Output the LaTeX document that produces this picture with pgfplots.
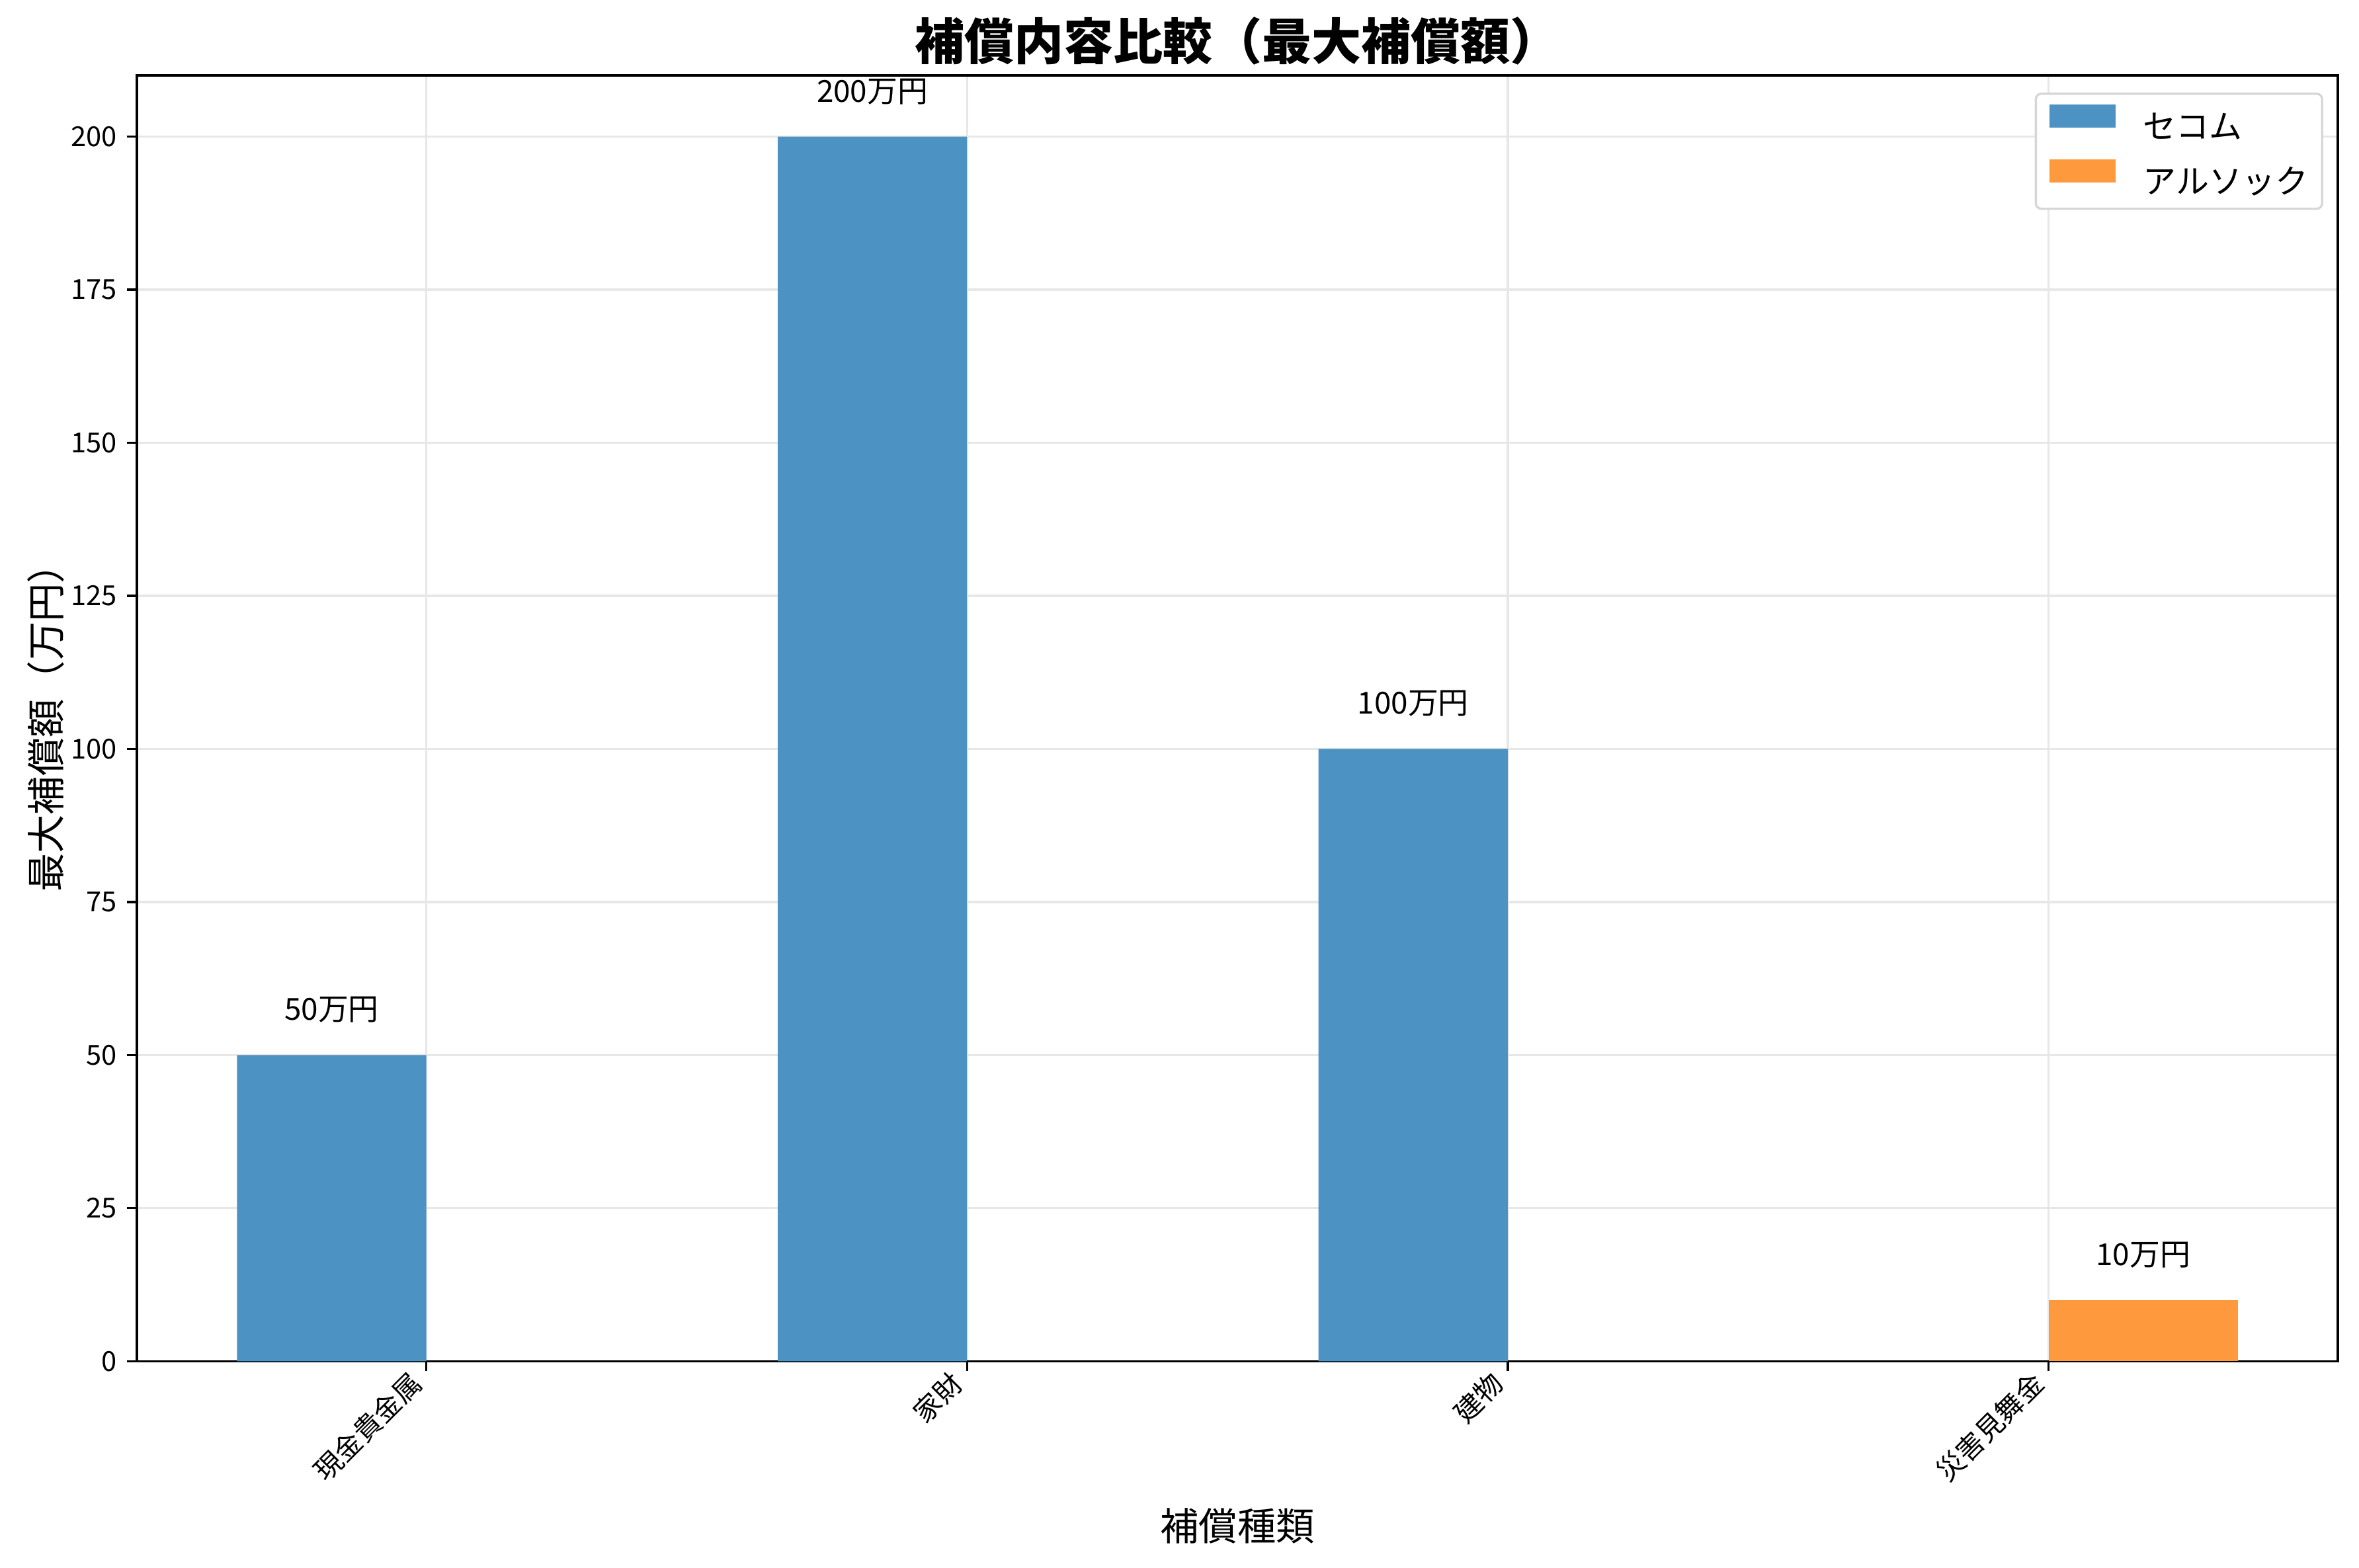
\documentclass[border=0pt]{standalone}
\usepackage{fontspec}
\setmainfont{Noto Sans CJK JP}
\usepackage{pgfplots}
\pgfplotsset{compat=1.18}
\definecolor{secom}{RGB}{76,146,195}
\definecolor{alsok}{RGB}{255,153,62}
\definecolor{gridgray}{RGB}{231,231,231}
\begin{document}
\begin{tikzpicture}
\begin{axis}[
    scale only axis,
    width=798.7pt, height=466.6pt,
    xmin=-0.535, xmax=3.535,
    ymin=0, ymax=210,
    xtick={0,1,2,3},
    xticklabels={現金貴金属, 家財, 建物, 災害見舞金},
    ytick={0,25,...,200},
    tick pos=left,
    tick align=outside,
    major tick length=3.5pt,
    axis line style={line width=0.8pt},
    every tick/.style={black, line width=0.8pt},
    xmajorgrids=true, ymajorgrids=true,
    grid style={gridgray, line width=0.8pt},
    /pgf/number format/assume math mode=true,
    tick label style={font=\fontsize{10}{12}\selectfont},
    yticklabel style={inner sep=0pt, xshift=-3.5pt},
    xticklabel style={yshift=-6pt, rotate=45, anchor=south east, inner sep=0pt},
    title={補償内容比較（最大補償額）},
    title style={font=\fontsize{18}{21}\selectfont\bfseries, at={(0.5,1)}, anchor=south, inner sep=0pt, yshift=-2.3pt},
    xlabel={補償種類},
    ylabel={最大補償額（万円）},
    label style={font=\fontsize{14}{16}\selectfont},
    xlabel style={yshift=-5pt},
    ylabel style={yshift=-1pt},
    legend style={at={(1,1)}, anchor=north east, xshift=-5.3pt, yshift=-6.2pt,
        draw=black!16, line width=0.8pt, rounded corners=2pt,
        font=\fontsize{12}{14}\selectfont,
        inner xsep=5pt, inner ysep=4pt, row sep=6pt, column sep=10pt,
        nodes={inner sep=0pt}},
    legend cell align=left,
    legend image code/.code={\fill[#1, sharp corners] (0pt,0pt) rectangle (24pt,8.4pt);},
    nodes near coords={\pgfmathprintnumber{\pgfplotspointmeta}万円},
    every node near coord/.append style={font=\fontsize{11}{13}\selectfont, inner sep=0pt, yshift=11.5pt, black},
]
% bars are drawn at category +- 0.175 (bar width 0.35)
\addplot[ybar, bar width=0.35, bar shift=0, fill=secom, draw=none]
    coordinates {(-0.175,50) (0.825,200) (1.825,100)};
\addlegendentry{セコム}
\addplot[ybar, bar width=0.35, bar shift=0, fill=alsok, draw=none]
    coordinates {(3.175,10)};
\addlegendentry{アルソック}
\end{axis}
\pgfresetboundingbox
\useasboundingbox (current axis.south west) ++(-49.7pt,-74.9pt) rectangle ([shift={(7.7pt,27.4pt)}]current axis.north east);
\end{tikzpicture}
\end{document}
